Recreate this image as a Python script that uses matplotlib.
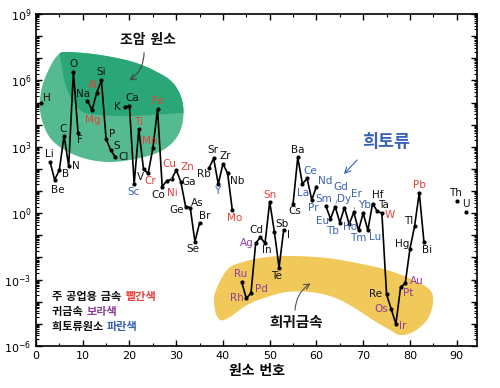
import numpy as np
import matplotlib
matplotlib.use('Agg')
import matplotlib.pyplot as plt
from matplotlib.patches import Polygon
from matplotlib.ticker import MultipleLocator, FixedLocator, LogLocator, NullFormatter

plt.rcParams['font.family'] = ['DejaVu Sans', 'Noto Sans CJK KR']

# atomic numbers 1..92, abundance (atoms per 10^6 atoms of Si), None = not plotted
symbols = ['H', 'He', 'Li', 'Be', 'B', 'C', 'N', 'O', 'F', 'Ne',
           'Na', 'Mg', 'Al', 'Si', 'P', 'S', 'Cl', 'Ar', 'K', 'Ca',
           'Sc', 'Ti', 'V', 'Cr', 'Mn', 'Fe', 'Co', 'Ni', 'Cu', 'Zn',
           'Ga', 'Ge', 'As', 'Se', 'Br', 'Kr', 'Rb', 'Sr', 'Y', 'Zr',
           'Nb', 'Mo', 'Tc', 'Ru', 'Rh', 'Pd', 'Ag', 'Cd', 'In', 'Sn',
           'Sb', 'Te', 'I', 'Xe', 'Cs', 'Ba', 'La', 'Ce', 'Pr', 'Nd',
           'Pm', 'Sm', 'Eu', 'Gd', 'Tb', 'Dy', 'Ho', 'Er', 'Tm', 'Yb',
           'Lu', 'Hf', 'Ta', 'W', 'Re', 'Os', 'Ir', 'Pt', 'Au', 'Hg',
           'Tl', 'Pb', 'Bi', 'Po', 'At', 'Rn', 'Fr', 'Ra', 'Ac', 'Th',
           'Pa', 'U']
abundance = [9.5e4, None, 2.1e2, 3.2e1, 9.0e1, 3.2e3, 1.35e2, 2.5e6, 4.0e3, None,
             1.2e5, 4.6e4, 2.8e5, 1.0e6, 2.2e3, 7.0e2, 3.3e2, None, 6.5e4, 6.8e4,
             2.1e1, 6.3e3, 9.5e1, 6.3e1, 8.5e2, 4.9e4, 1.6e1, 2.9e1, 3.4e1, 8.9e1,
             2.6e1, 2.0, 1.8, 5.1e-2, 3.7e-1, None, 1.07e2, 3.0e2, 2.1e1, 1.7e2,
             6.3e1, 1.4, None, 8.0e-4, 1.4e-4, 2.5e-4, 4.4e-2, 8.1e-2, 4.4e-2, 3.3,
             1.45e-1, 3.5e-3, 1.8e-1, None, 2.6, 3.3e2, 2.1e1, 3.7e1, 4.0, 1.6e1,
             None, 2.2, 5.6e-1, 2.0, 3.8e-1, 1.8, 3.2e-1, 1.1, 1.7e-1, 1.0,
             1.7e-1, 2.7, 1.25, 1.0, 2.2e-4, 4.6e-5, 1.0e-5, 4.5e-4, 6.8e-4, 2.4e-2,
             2.6e-1, 8.5, 5.1e-2, None, None, None, None, None, None, 3.6,
             None, 1.1]

industrial = ['Mg', 'Al', 'Ti', 'Cr', 'Mn', 'Fe', 'Ni', 'Cu', 'Zn', 'Mo', 'Sn', 'W', 'Pb']
precious = ['Ru', 'Rh', 'Pd', 'Ag', 'Os', 'Ir', 'Pt', 'Au']
rare_earth = ['Sc', 'Y', 'La', 'Ce', 'Pr', 'Nd', 'Sm', 'Eu', 'Gd', 'Tb', 'Dy',
              'Ho', 'Er', 'Tm', 'Yb', 'Lu']

RED, PURPLE, BLUE = '#e8403c', '#8e3d9c', '#3a62b5'

# label offsets in pixels (dx, dy), and elements whose label has a leader line
label_offset = {
    'H': (6, 5), 'Li': (-1, 8), 'Be': (3, -10), 'B': (6, -4), 'C': (-1, 7),
    'N': (7, 0), 'O': (0, 8), 'F': (2, -7), 'Na': (-4, 7), 'Mg': (1, -10),
    'Al': (-4, 8), 'Si': (0, 8), 'P': (6, 5), 'S': (6, 4), 'Cl': (8, 0),
    'K': (-7, 0), 'Ca': (3, 8), 'Sc': (-1, -8), 'Ti': (0, 7), 'V': (-3, -8),
    'Cr': (2, -8), 'Mn': (-3, 7), 'Fe': (0, 8), 'Co': (-4, -8), 'Ni': (6, -12),
    'Cu': (-2, 15), 'Zn': (11, 3), 'Ga': (8, 0), 'Ge': (-9, -3), 'As': (7, 5),
    'Se': (-2, -7), 'Br': (5, 7), 'Rb': (-5, -6), 'Sr': (-1, 8), 'Y': (-1, -7),
    'Zr': (2, 8), 'Nb': (10, -8), 'Mo': (2, -8), 'Ru': (-1, 8), 'Rh': (-9, 0),
    'Pd': (10, 4), 'Ag': (-9, 0), 'Cd': (-4, 7), 'In': (2, -7), 'Sn': (0, 7),
    'Sb': (8, 8), 'Te': (-3, -8), 'I': (5, -5), 'Cs': (2, -7), 'Ba': (0, 7),
    'La': (1, -9), 'Ce': (3, 7), 'Pr': (1, -8), 'Nd': (9, 6), 'Sm': (-2, 7),
    'Eu': (-8, -2), 'Gd': (6, 20), 'Tb': (-7, -8), 'Dy': (0, 9), 'Ho': (1, -3),
    'Er': (3, 18), 'Tm': (0, -8), 'Yb': (1, 8), 'Lu': (7, -7), 'Hf': (5, 9),
    'Ta': (6, 6), 'W': (8, -2), 'Re': (-11, 0), 'Os': (-10, 0), 'Ir': (7, -2),
    'Pt': (8, -6), 'Au': (12, 2), 'Hg': (-8, 5), 'Tl': (-6, 5), 'Pb': (0, 8),
    'Bi': (3, -8), 'Th': (-1, 8), 'U': (0, 8),
}
leader = ['Cu', 'Gd', 'Er']

# outlines of the shaded groups, in reference pixel coordinates
green_outline = [(67, 52), (100, 55), (133, 62), (157, 72), (173, 83), (182, 100),
                 (183, 120), (177, 137), (163, 150), (140, 158), (110, 162), (83, 158),
                 (60, 147), (47, 133), (40, 110), (42, 87), (50, 67), (58, 55)]
green_dark = [(50, 35), (120, 30), (200, 35), (205, 112), (180, 113), (133, 116),
              (100, 115), (83, 112), (72, 100), (65, 83), (62, 67), (57, 45)]
yellow_outline = [(215, 293), (227, 270), (243, 262), (267, 257), (293, 256), (327, 258),
                  (357, 263), (387, 270), (413, 280), (430, 290), (433, 303), (427, 320),
                  (413, 332), (400, 335), (390, 330), (373, 320), (353, 307), (333, 297),
                  (310, 292), (287, 292), (267, 297), (247, 305), (230, 317), (220, 320),
                  (215, 310)]


def smooth_closed(pts, n=16):
    p = np.asarray(pts, float)
    m = len(p)
    t = np.linspace(0, 1, n, endpoint=False)[:, None]
    out = []
    for i in range(m):
        p0, p1, p2, p3 = p[i - 1], p[i], p[(i + 1) % m], p[(i + 2) % m]
        out.append(0.5 * (2 * p1 + (-p0 + p2) * t + (2 * p0 - 5 * p1 + 4 * p2 - p3) * t ** 2
                          + (-p0 + 3 * p1 - 3 * p2 + p3) * t ** 3))
    return np.vstack(out)


L, T, W, H = 36, 14, 441, 332


def px(x, y):
    return ((x - L) / W, (T + H - y) / H)


def px_arr(pts):
    a = smooth_closed(pts)
    return np.column_stack([(a[:, 0] - L) / W, (T + H - a[:, 1]) / H])


fig = plt.figure(figsize=(5.0, 3.88), dpi=100)
ax = fig.add_axes([L / 500, (388 - T - H) / 388, W / 500, H / 388])

z = np.arange(1, len(symbols) + 1)
vals = np.array([np.nan if v is None else v for v in abundance])

# shaded regions
blob = Polygon(px_arr(green_outline), closed=True, transform=ax.transAxes,
               facecolor='#55ba8f', edgecolor='none', zorder=0)
ax.add_patch(blob)
dark = Polygon(px_arr(green_dark), closed=True, transform=ax.transAxes,
               facecolor='#2ba676', edgecolor='none', zorder=0)
ax.add_patch(dark)
dark.set_clip_path(blob)
ax.add_patch(Polygon(px_arr(yellow_outline), closed=True, transform=ax.transAxes,
                     facecolor='#f1c95b', edgecolor='none', zorder=0))

ax.plot(z, vals, color='black', lw=1.2, marker='o', ms=2.0, zorder=2)

for sym, zz, v in zip(symbols, z, vals):
    if np.isnan(v):
        continue
    if sym in industrial:
        c = RED
    elif sym in precious:
        c = PURPLE
    elif sym in rare_earth:
        c = BLUE
    else:
        c = '#111111'
    dx, dy = label_offset.get(sym, (0, 8))
    props = None
    if sym in leader:
        props = dict(arrowstyle='-', color='#888888', lw=0.6, shrinkA=4, shrinkB=2)
    ax.annotate(sym, (zz, v), xytext=(dx, dy), textcoords='offset pixels',
                ha='center', va='center', color=c, fontsize=7.5, zorder=3,
                arrowprops=props)

# group annotations
ax.annotate('', xy=px(127, 82), xytext=px(144, 50), xycoords='axes fraction',
            textcoords='axes fraction',
            arrowprops=dict(arrowstyle='->', color='#444444', lw=0.8,
                            connectionstyle='arc3,rad=-0.3'))
ax.text(*px(148, 40), '조암 원소', transform=ax.transAxes, ha='center', va='center',
        fontsize=10, fontweight='bold', color='#111111')

ax.annotate('', xy=px(342, 176), xytext=px(359, 158), xycoords='axes fraction',
            textcoords='axes fraction',
            arrowprops=dict(arrowstyle='->', color=BLUE, lw=0.8))
ax.text(*px(386, 142), '희토류', transform=ax.transAxes, ha='center', va='center',
        fontsize=12.5, fontweight='bold', color=BLUE)

ax.annotate('', xy=px(313, 282), xytext=px(295, 313), xycoords='axes fraction',
            textcoords='axes fraction',
            arrowprops=dict(arrowstyle='->', color='#555555', lw=0.8,
                            connectionstyle='arc3,rad=-0.3'))
ax.text(*px(296, 323), '희귀금속', transform=ax.transAxes, ha='center', va='center',
        fontsize=10.5, fontweight='bold', color='#111111')

# colour key
key = [('주 공업용 금속 ', '빨간색', RED), ('귀금속 ', '보라색', PURPLE),
       ('희토류원소 ', '파란색', BLUE)]
for i, (a, b, c) in enumerate(key):
    t = ax.text(*px(52, 297 + i * 15), a, transform=ax.transAxes, ha='left',
                va='center', fontsize=8, fontweight='bold', color='#111111')
    ax.annotate(b, xy=(1, 0), xycoords=t, va='bottom', ha='left', fontsize=8,
                fontweight='bold', color=c)

ax.set_yscale('log')
ax.set_xlim(0, W / 4.674)
ax.set_ylim(1e-6, 1e9)
ax.xaxis.set_major_locator(MultipleLocator(10))
ax.xaxis.set_minor_locator(MultipleLocator(5))
ax.yaxis.set_major_locator(FixedLocator([10.0 ** k for k in range(-6, 10)]))
ax.yaxis.set_minor_locator(LogLocator(base=10, subs=np.arange(2, 10), numticks=40))
ax.yaxis.set_minor_formatter(NullFormatter())
ax.set_yticklabels(['$10^{%d}$' % k if k % 3 == 0 else '' for k in range(-6, 10)])
ax.tick_params(which='both', direction='in', top=True, right=True, labelsize=8)
ax.tick_params(which='major', length=4, width=1)
ax.tick_params(which='minor', length=2, width=0.8)
for s in ax.spines.values():
    s.set_linewidth(1.2)
ax.set_xlabel('원소 번호', fontsize=10, fontweight='bold', labelpad=2)

fig.savefig('out.png', dpi=100)
